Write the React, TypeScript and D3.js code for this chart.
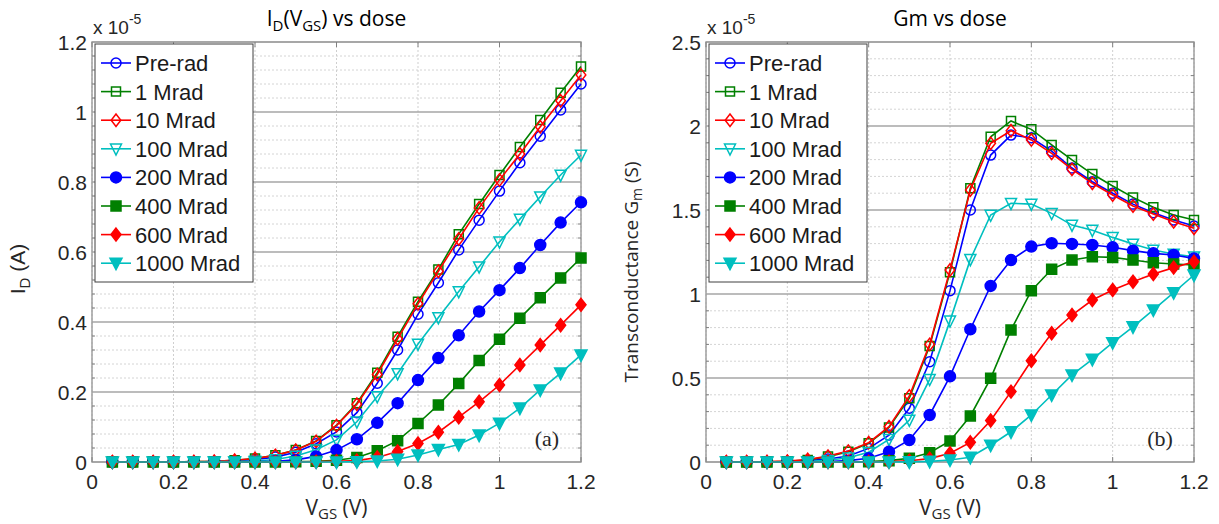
import React from 'react';
import * as d3 from 'd3';

// ---------- data ----------
const vgs = [0.05, 0.1, 0.15, 0.2, 0.25, 0.3, 0.35, 0.4, 0.45, 0.5, 0.55, 0.6, 0.65, 0.7, 0.75, 0.8, 0.85, 0.9, 0.95, 1.0, 1.05, 1.1, 1.15, 1.2];

const seriesNames = ['Pre-rad', '1 Mrad', '10 Mrad', '100 Mrad', '200 Mrad', '400 Mrad', '600 Mrad', '1000 Mrad'];
const seriesColors = ['#0000FF', '#008000', '#FF0000', '#00BFBF', '#0000FF', '#008000', '#FF0000', '#00BFBF'];
const seriesMarkers = ['circle', 'square', 'diamond', 'triangle', 'circle', 'square', 'diamond', 'triangle'];
const seriesFilled = [false, false, false, false, true, true, true, true];

// I_D (x 1e-5 A)
const idPreRad = [0, 0, 0, 0, 0, 0.001, 0.003, 0.007, 0.014, 0.028, 0.052, 0.086, 0.141, 0.225, 0.32, 0.422, 0.512, 0.606, 0.691, 0.774, 0.855, 0.931, 1.006, 1.08];
const id1M = [0, 0, 0, 0, 0.001, 0.002, 0.005, 0.01, 0.019, 0.034, 0.06, 0.105, 0.168, 0.255, 0.358, 0.458, 0.55, 0.651, 0.737, 0.82, 0.9, 0.977, 1.055, 1.13];
const id10M = [0, 0, 0, 0, 0.001, 0.002, 0.005, 0.01, 0.019, 0.034, 0.059, 0.104, 0.165, 0.25, 0.352, 0.452, 0.545, 0.637, 0.726, 0.806, 0.88, 0.958, 1.032, 1.106];
const id100M = [0, 0, 0, 0, 0, 0.001, 0.001, 0.003, 0.007, 0.017, 0.035, 0.063, 0.115, 0.187, 0.253, 0.337, 0.413, 0.487, 0.558, 0.629, 0.694, 0.758, 0.82, 0.877];
const id200M = [0, 0, 0, 0, 0, 0, 0, 0.001, 0.002, 0.006, 0.016, 0.034, 0.065, 0.112, 0.168, 0.234, 0.297, 0.362, 0.43, 0.491, 0.554, 0.62, 0.684, 0.742];
const id400M = [0, 0, 0, 0, 0, 0, 0, 0, 0, 0.001, 0.002, 0.005, 0.013, 0.032, 0.061, 0.11, 0.163, 0.224, 0.29, 0.351, 0.411, 0.469, 0.526, 0.583];
const id600M = [0, 0, 0, 0, 0, 0, 0, 0, 0, 0, 0.001, 0.002, 0.004, 0.013, 0.03, 0.053, 0.085, 0.128, 0.172, 0.22, 0.277, 0.334, 0.391, 0.449];
const id1000M = [0, 0, 0, 0, 0, 0, 0, 0, 0, 0, 0, 0, 0.001, 0.003, 0.008, 0.02, 0.036, 0.05, 0.077, 0.111, 0.154, 0.206, 0.254, 0.306];

// Gm (x 1e-5 S)
const gmPreRad = [0, 0, 0, 0.002, 0.008, 0.018, 0.036, 0.081, 0.16, 0.32, 0.597, 1.02, 1.5, 1.827, 1.946, 1.93, 1.85, 1.75, 1.668, 1.6, 1.535, 1.484, 1.44, 1.405];
const gm1M = [0, 0, 0, 0.004, 0.012, 0.032, 0.061, 0.111, 0.205, 0.38, 0.69, 1.13, 1.629, 1.936, 2.03, 1.98, 1.887, 1.798, 1.714, 1.643, 1.575, 1.516, 1.47, 1.44];
const gm10M = [0, 0, 0.002, 0.005, 0.015, 0.035, 0.065, 0.115, 0.21, 0.393, 0.7, 1.143, 1.619, 1.897, 1.972, 1.917, 1.837, 1.742, 1.659, 1.589, 1.524, 1.476, 1.43, 1.391];
const gm100M = [0, 0, 0, 0, 0.003, 0.01, 0.025, 0.058, 0.135, 0.25, 0.492, 0.84, 1.206, 1.47, 1.54, 1.535, 1.48, 1.41, 1.38, 1.337, 1.298, 1.262, 1.238, 1.222];
const gm200M = [0, 0, 0, 0, 0, 0.002, 0.008, 0.022, 0.061, 0.131, 0.28, 0.51, 0.79, 1.048, 1.202, 1.282, 1.302, 1.298, 1.292, 1.278, 1.258, 1.242, 1.232, 1.212];
const gm400M = [0, 0, 0, 0, 0, 0, 0, 0.002, 0.008, 0.022, 0.055, 0.125, 0.274, 0.498, 0.786, 1.02, 1.147, 1.202, 1.222, 1.218, 1.202, 1.186, 1.179, 1.173];
const gm600M = [0, 0, 0, 0, 0, 0, 0, 0, 0.002, 0.007, 0.02, 0.052, 0.117, 0.247, 0.419, 0.603, 0.766, 0.875, 0.964, 1.024, 1.073, 1.119, 1.157, 1.192];
const gm1000M = [0, 0, 0, 0, 0, 0, 0, 0, 0, 0.001, 0.004, 0.012, 0.028, 0.1, 0.18, 0.28, 0.399, 0.518, 0.611, 0.71, 0.805, 0.905, 1.008, 1.113];

const xTicks = [0, 0.2, 0.4, 0.6, 0.8, 1.0, 1.2];
const xTickLabels = ['0', '0.2', '0.4', '0.6', '0.8', '1', '1.2'];
const idTicks = [0, 0.2, 0.4, 0.6, 0.8, 1.0, 1.2];
const idTickLabels = ['0', '0.2', '0.4', '0.6', '0.8', '1', '1.2'];
const gmTicks = [0, 0.5, 1.0, 1.5, 2.0, 2.5];
const gmTickLabels = ['0', '0.5', '1', '1.5', '2', '2.5'];

const idSeries = [idPreRad, id1M, id10M, id100M, id200M, id400M, id600M, id1000M];
const gmSeries = [gmPreRad, gm1M, gm10M, gm100M, gm200M, gm400M, gm600M, gm1000M];

// ---------- drawing ----------
const AX_FONT = 'Arial, "Liberation Sans", sans-serif';
const LBL_FONT = '"Open Sans", "Noto Sans", sans-serif';

function markerPath(kind: string, filled: boolean): string {
  if (kind === 'circle') {
    const r = filled ? 5.5 : 5;
    return `M${-r},0A${r},${r} 0 1,0 ${r},0A${r},${r} 0 1,0 ${-r},0Z`;
  }
  if (kind === 'square') {
    const h = filled ? 5 : 4.5;
    return `M${-h},${-h}L${h},${-h}L${h},${h}L${-h},${h}Z`;
  }
  if (kind === 'diamond') {
    const w = filled ? 5 : 4.8;
    const h = filled ? 6.5 : 6.2;
    return `M0,${-h}L${w},0L0,${h}L${-w},0Z`;
  }
  // triangle down
  const w = filled ? 6 : 5.5;
  const h = filled ? 5 : 4.8;
  return `M${-w},${-h}L${w},${-h}L0,${h + 1.5}Z`;
}

function Panel(props: any) {
  const { x0, x1, y0, y1, yMax, yTicks, yTickLabels, minorStep, series, tag, legendW } = props;
  const xs = d3.scaleLinear().domain([0, 1.2]).range([x0, x1]);
  const ys = d3.scaleLinear().domain([0, yMax]).range([y1, y0]);
  const line = d3.line<number>().x((_, i) => xs(vgs[i])).y((d) => ys(d));
  const minors: number[] = [];
  const nMinor = Math.round(yMax / minorStep);
  for (let k = 0; k <= nMinor; k++) {
    const v = k * minorStep;
    if (!yTicks.some((t: number) => Math.abs(t - v) < 1e-6)) minors.push(v);
  }
  const legX = x0 + 3;
  const legY = y0 + 2;
  const legH = 238;
  const rowH = 28.6;

  return (
    <g>
      {minors.map((v, i) => (
        <line key={'mg' + i} x1={x0} x2={x1} y1={ys(v)} y2={ys(v)} stroke="#d4d4d4" strokeWidth={1} strokeDasharray="2,2" />
      ))}
      {xTicks.map((t, i) => (
        <line key={'vg' + i} x1={xs(t)} x2={xs(t)} y1={y0} y2={y1} stroke="#cfcfcf" strokeWidth={1} strokeDasharray="2,2" />
      ))}
      {yTicks.map((t: number, i: number) => (
        <line key={'hg' + i} x1={x0} x2={x1} y1={ys(t)} y2={ys(t)} stroke="#a6a6a6" strokeWidth={1.5} />
      ))}
      <rect x={x0} y={y0} width={x1 - x0} height={y1 - y0} fill="none" stroke="#a0a0a0" strokeWidth={1.5} />
      {xTicks.map((t, i) => (
        <g key={'xt' + i}>
          <line x1={xs(t)} x2={xs(t)} y1={y1} y2={y1 - 5} stroke="#808080" />
          <line x1={xs(t)} x2={xs(t)} y1={y0} y2={y0 + 5} stroke="#808080" />
        </g>
      ))}
      {minors.map((v, i) => (
        <g key={'ym' + i}>
          <line x1={x0} x2={x0 + 3} y1={ys(v)} y2={ys(v)} stroke="#808080" />
          <line x1={x1} x2={x1 - 3} y1={ys(v)} y2={ys(v)} stroke="#808080" />
        </g>
      ))}
      {xTicks.map((t, i) => (
        <text key={'xl' + i} x={xs(t)} y={y1 + 27} textAnchor="middle" fontFamily={AX_FONT} fontSize={21} fill="#262626">
          {xTickLabels[i]}
        </text>
      ))}
      {yTicks.map((t: number, i: number) => (
        <text key={'yl' + i} x={x0 - 5} y={ys(t) + 8} textAnchor="end" fontFamily={AX_FONT} fontSize={21} fill="#262626">
          {yTickLabels[i]}
        </text>
      ))}
      <text x={x0 + 1} y={y0 - 8} fontFamily={AX_FONT} fontSize={19} fill="#262626">
        x 10<tspan dy={-10} fontSize={14}>-5</tspan>
      </text>
      {series.map((s: number[], si: number) => (
        <g key={'s' + si}>
          <path d={line(s) || ''} fill="none" stroke={seriesColors[si]} strokeWidth={1.6} />
          {s.map((v, i) => (
            <path
              key={i}
              d={markerPath(seriesMarkers[si], seriesFilled[si])}
              transform={`translate(${xs(vgs[i])},${ys(v)})`}
              fill={seriesFilled[si] ? seriesColors[si] : 'none'}
              stroke={seriesColors[si]}
              strokeWidth={1.5}
            />
          ))}
        </g>
      ))}
      <rect x={legX} y={legY} width={legendW} height={legH} fill="#ffffff" stroke="#404040" strokeWidth={1} />
      {seriesNames.map((n, i) => {
        const cy = legY + 19 + i * rowH;
        return (
          <g key={'lg' + i}>
            <line x1={legX + 6} x2={legX + 36} y1={cy} y2={cy} stroke={seriesColors[i]} strokeWidth={1.6} />
            <path
              d={markerPath(seriesMarkers[i], seriesFilled[i])}
              transform={`translate(${legX + 21},${cy})`}
              fill={seriesFilled[i] ? seriesColors[i] : 'none'}
              stroke={seriesColors[i]}
              strokeWidth={1.5}
            />
            <text x={legX + 40} y={cy + 8} fontFamily={AX_FONT} fontSize={22} fill="#1a1a1a">
              {n}
            </text>
          </g>
        );
      })}
      <text x={x1 - 34} y={y1 - 16} textAnchor="middle" fontFamily='"Liberation Serif", "Times New Roman", serif' fontSize={22} fill="#262626">
        {tag}
      </text>
    </g>
  );
}

export default function App() {
  const A = { x0: 92, x1: 581, y0: 42, y1: 462 };
  const B = { x0: 706, x1: 1194, y0: 42, y1: 462 };
  return (
    <svg width={1219} height={524} style={{ position: 'absolute', left: 0, top: 0, background: '#ffffff' }}>
      <rect x={0} y={0} width={1219} height={524} fill="#ffffff" />
      <Panel {...A} yMax={1.2} yTicks={idTicks} yTickLabels={idTickLabels} minorStep={0.04} series={idSeries} tag="(a)" legendW={158} />
      <Panel {...B} yMax={2.5} yTicks={gmTicks} yTickLabels={gmTickLabels} minorStep={0.1} series={gmSeries} tag="(b)" legendW={158} />

      <text x={(A.x0 + A.x1) / 2} y={26} textAnchor="middle" fontFamily={LBL_FONT} fontSize={21} fill="#000">
        I<tspan dy={5} fontSize={15}>D</tspan>
        <tspan dy={-5}>(V</tspan>
        <tspan dy={5} fontSize={15}>GS</tspan>
        <tspan dy={-5}>) vs dose</tspan>
      </text>
      <text x={(B.x0 + B.x1) / 2} y={26} textAnchor="middle" fontFamily={LBL_FONT} fontSize={21} fill="#000">
        Gm vs dose
      </text>

      {[A, B].map((p, i) => (
        <text key={'xlab' + i} x={(p.x0 + p.x1) / 2} y={515} textAnchor="middle" fontFamily={LBL_FONT} fontSize={21} fill="#262626">
          V<tspan dy={4} fontSize={15}>GS</tspan>
          <tspan dy={-4}> (V)</tspan>
        </text>
      ))}

      <text transform={`translate(25,${269}) rotate(-90)`} textAnchor="middle" fontFamily={AX_FONT} fontSize={21} fill="#262626">
        I<tspan dy={5} fontSize={15}>D</tspan>
        <tspan dy={-5}> (A)</tspan>
      </text>
      <text transform={`translate(638,${272}) rotate(-90)`} textAnchor="middle" fontFamily={LBL_FONT} fontSize={19} fill="#262626">
        Transconductance G<tspan dy={4} fontSize={14}>m</tspan>
        <tspan dy={-4}> (S)</tspan>
      </text>
    </svg>
  );
}
